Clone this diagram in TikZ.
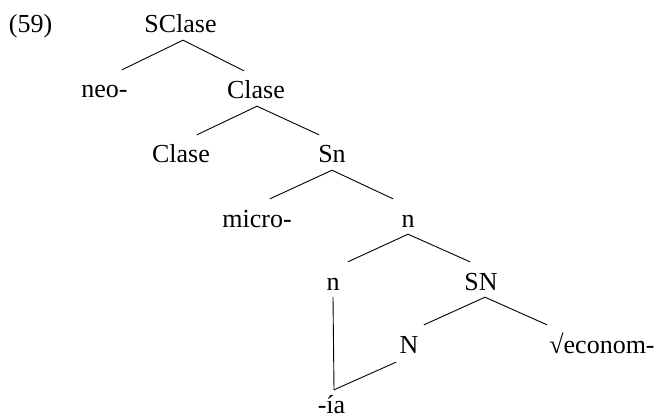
\documentclass[tikz,border=0pt]{standalone}
\usepackage{fontspec}
\setmainfont{Liberation Serif}
\begin{document}
\begin{tikzpicture}[x=1pt,y=-1pt,
  lab/.style={inner sep=0pt, anchor=base, text height=28pt, text depth=7pt,
    font=\fontsize{26}{30}\selectfont},
  branch/.style={line width=0.9pt, line cap=round}]
\useasboundingbox (0,0) rectangle (656,417);

% labels of the tree, placed on their baselines
\node[lab] (ex)     at (30.5,33)  {(59)};
\node[lab] (sclase) at (180.5,33) {SClase};
\node[lab] (neo)    at (104.5,98) {neo-};
\node[lab] (claseA) at (256,99)   {Clase};
\node[lab] (claseB) at (181,163)  {Clase};
\node[lab] (sn)     at (332,163)  {Sn};
\node[lab] (micro)  at (257,227)  {micro-};
\node[lab] (nA)     at (408,227)  {n};
\node[lab] (nB)     at (333,290)  {n};
\node[lab] (SN)     at (481,290)  {SN};
\node[lab] (N)      at (409,353)  {N};
\node[lab] (econ)   at (602,353)  {√econom-};
\node[lab, text height=23pt, text depth=0pt] (ia) at (331.5,413) {-ía};

% branches
\draw[branch] ([xshift=2.5pt]sclase.south) -- ([xshift=17.5pt]neo.north);
\draw[branch] ([xshift=2.5pt]sclase.south) -- ([xshift=-12pt]claseA.north);
\draw[branch] ([xshift=1pt]claseA.south) -- ([xshift=16pt]claseB.north);
\draw[branch] ([xshift=1pt]claseA.south) -- ([xshift=-13pt]sn.north);
\draw[branch] (sn.south) -- ([xshift=13pt]micro.north);
\draw[branch] (sn.south) -- ([xshift=-15pt]nA.north);
\draw[branch] (nA.south) -- ([xshift=15pt]nB.north);
\draw[branch] (nA.south) -- ([xshift=-11pt]SN.north);
\draw[branch] ([xshift=4pt]SN.south) -- ([xshift=15pt]N.north);
\draw[branch] ([xshift=4pt]SN.south) -- ([xshift=-55pt]econ.north);
\draw[branch] (nB.south) -- ([xshift=2.5pt]ia.north);
\draw[branch] ([xshift=-13pt,yshift=-2pt]N.south) -- ([xshift=2.5pt]ia.north);
\end{tikzpicture}
\end{document}
